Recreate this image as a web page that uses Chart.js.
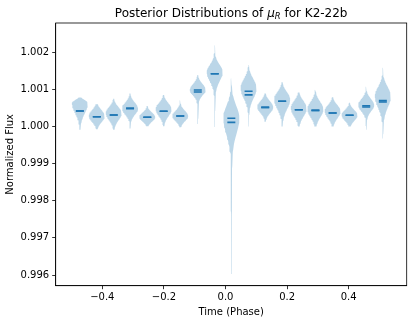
<!DOCTYPE html>
<html>
<head>
<meta charset="utf-8">
<script src="https://cdn.jsdelivr.net/npm/chart.js@4"></script>
<style>
  body { margin: 0; background: #fff; }
  #wrap { position: relative; width: 415px; height: 323px; }
  #title {
    position: absolute; left: 55.7px; width: 351px; top: 6px;
    text-align: center; font: 12px "DejaVu Sans", sans-serif; line-height: 14px; color: #000;
    white-space: nowrap;
  }
  #title .mu { font-style: italic; }
  #title .sub { font-style: italic; font-size: 0.7em; vertical-align: -0.25em; }
</style>
</head>
<body>
<div id="wrap">
  <canvas id="c" width="415" height="323"></canvas>
  <div id="title">Posterior Distributions of <span class="mu">μ</span><span class="sub">R</span> for K2-22b</div>
</div>
<script>
// violin positions (phase) and what each posterior looks like
const positions = [-0.473, -0.418, -0.363, -0.310, -0.254, -0.201, -0.147, -0.090, -0.035, 0.019,
                   0.075, 0.129, 0.184, 0.238, 0.292, 0.348, 0.403, 0.457, 0.511];
const lows   = [0.99991, 0.99993, 0.99991, 0.99995, 1.00001, 1.00001, 0.99998, 1.00007, 0.99999, 0.99603,
                1.00000, 1.00013, 1.00000, 1.00000, 1.00000, 1.00000, 1.00000, 0.99991, 0.99968];
const highs  = [1.00078, 1.00060, 1.00075, 1.00089, 1.00055, 1.00085, 1.00076, 1.00139, 1.00247, 1.00184,
                1.00170, 1.00089, 1.00119, 1.00092, 1.00109, 1.00079, 1.00065, 1.00112, 1.00161];
const peaks  = [1.000633, 1.000283, 1.000364, 1.000485, 1.000256, 1.000471, 1.000283, 1.000983, 1.001468, 1.000229,
                1.001037, 1.000525, 1.000741, 1.000498, 1.000471, 1.000418, 1.000310, 1.000579, 1.000822];
const spreadUp   = [0.00008, 0.00016, 0.00016, 0.00016, 0.00012, 0.00016, 0.000135, 0.00016, 0.00019, 0.00032,
                    0.00024, 0.00016, 0.00019, 0.00019, 0.00019, 0.00016, 0.000135, 0.00016, 0.00024];
const spreadDown = [0.00027, 0.00016, 0.00019, 0.00016, 0.00012, 0.00019, 0.000135, 0.000135, 0.00024, 0.00043,
                    0.00027, 0.00016, 0.00027, 0.00022, 0.00022, 0.00019, 0.00015, 0.00016, 0.00030];
const tails  = [0.05, 0.05, 0.05, 0.12, 0.05, 0.05, 0.12, 0.12, 0.10, 0.10,
                0.08, 0.05, 0.05, 0.05, 0.12, 0.05, 0.05, 0.12, 0.10];
const medians = [1.000418, 1.000264, 1.000310, 1.000498, 1.000248, 1.000410, 1.000283, 1.000983, 1.001422, 1.000221,
                 1.000951, 1.000517, 1.000679, 1.000453, 1.000436, 1.000364, 1.000302, 1.000560, 1.000698];
const means   = [1.000418, 1.000264, 1.000310, 1.000477, 1.000248, 1.000410, 1.000283, 1.000929, 1.001422, 1.000113,
                 1.000854, 1.000517, 1.000679, 1.000453, 1.000436, 1.000364, 1.000302, 1.000525, 1.000660];

const xTicks = [-0.4, -0.2, 0.0, 0.2, 0.4];
const xTickLabels = ['\u22120.4', '\u22120.2', '0.0', '0.2', '0.4'];
const yTicks = [0.996, 0.997, 0.998, 0.999, 1.000, 1.001, 1.002];
const yTickLabels = ['0.996', '0.997', '0.998', '0.999', '1.000', '1.001', '1.002'];

const violinWidth = 0.052;
const fillColor = 'rgba(31, 119, 180, 0.3)';
const lineColor = '#1f77b4';

// outline of one violin: density shape scaled so the widest point is violinWidth
function violinOutline(i) {
  const n = 90;
  const lo = lows[i], hi = highs[i], pk = peaks[i];
  const ys = [], ds = [];
  for (let k = 0; k <= n; k++) {
    const y = lo + (hi - lo) * k / n;
    const up = y > pk;
    const s = up ? spreadUp[i] : spreadDown[i];
    const ts = (up ? hi - pk : pk - lo) / 2 || s;
    const d = Math.exp(-0.5 * ((y - pk) / s) ** 2) + tails[i] * Math.exp(-0.5 * ((y - pk) / ts) ** 2);
    ys.push(y); ds.push(d);
  }
  const dmax = Math.max(...ds);
  const left = [], right = [];
  for (let k = 0; k <= n; k++) {
    const hw = violinWidth / 2 * ds[k] / dmax;
    left.push({ x: positions[i] - hw, y: ys[k] });
    right.push({ x: positions[i] + hw, y: ys[k] });
  }
  return left.concat(right.reverse());
}

function barSegments(values) {
  const pts = [];
  values.forEach((v, i) => {
    pts.push({ x: positions[i] - violinWidth / 4, y: v });
    pts.push({ x: positions[i] + violinWidth / 4, y: v });
    pts.push({ x: positions[i], y: null });
  });
  return pts;
}

const datasets = [];
positions.forEach((p, i) => {
  datasets.push({
    data: violinOutline(i),
    backgroundColor: fillColor,
    borderWidth: 0,
    pointRadius: 0,
    fill: 'shape',
    tension: 0,
    order: 2
  });
});
[medians, means].forEach(vals => {
  datasets.push({
    data: barSegments(vals),
    borderColor: lineColor,
    borderWidth: 1.6,
    pointRadius: 0,
    fill: false,
    spanGaps: false,
    order: 1
  });
});

// top and right spines
const framePlugin = {
  id: 'frame',
  afterDatasetsDraw(chart) {
    const { ctx, chartArea: a } = chart;
    ctx.save();
    ctx.strokeStyle = '#000';
    ctx.lineWidth = 0.8;
    ctx.strokeRect(a.left, a.top, a.right - a.left, a.bottom - a.top);
    ctx.restore();
  }
};

const tickFont = { family: 'DejaVu Sans', size: 10 };

new Chart(document.getElementById('c'), {
  type: 'line',
  data: { datasets },
  plugins: [framePlugin],
  options: {
    responsive: false,
    animation: false,
    devicePixelRatio: 1,
    layout: { padding: { top: 23, right: 8.3, left: 0, bottom: 0 } },
    plugins: { legend: { display: false }, tooltip: { enabled: false }, title: { display: false } },
    scales: {
      x: {
        type: 'linear',
        min: -0.5515,
        max: 0.5885,
        afterFit(scale) { scale.height = 37.3; },
        afterBuildTicks(scale) { scale.ticks = xTicks.map(v => ({ value: v })); },
        ticks: {
          font: tickFont, color: '#000', padding: 2, maxRotation: 0,
          callback: (v) => xTickLabels[xTicks.findIndex(t => Math.abs(t - v) < 1e-9)]
        },
        grid: { drawOnChartArea: false, drawTicks: true, tickLength: 3.5, color: '#000', lineWidth: 0.8 },
        border: { display: true, color: '#000', width: 0.8 },
        title: { display: true, text: 'Time (Phase)', font: tickFont, color: '#000', padding: { top: 0, bottom: 5 } }
      },
      y: {
        type: 'linear',
        min: 0.995712,
        max: 1.002789,
        afterFit(scale) { scale.width = 55.7; },
        afterBuildTicks(scale) { scale.ticks = yTicks.map(v => ({ value: v })); },
        ticks: {
          font: tickFont, color: '#000', padding: 3,
          callback: (v) => yTickLabels[yTicks.findIndex(t => Math.abs(t - v) < 1e-9)]
        },
        grid: { drawOnChartArea: false, drawTicks: true, tickLength: 3.5, color: '#000', lineWidth: 0.8 },
        border: { display: true, color: '#000', width: 0.8 },
        title: { display: true, text: 'Normalized Flux', font: tickFont, color: '#000', padding: { top: 4, bottom: 0 } }
      }
    }
  }
});
</script>
</body>
</html>
